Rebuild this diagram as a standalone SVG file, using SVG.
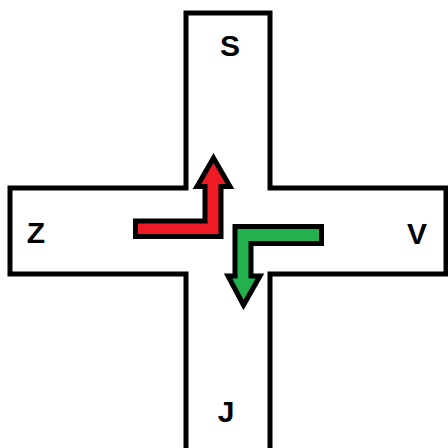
<svg xmlns="http://www.w3.org/2000/svg" width="448" height="448" viewBox="0 0 448 448">
<style>
.road{fill:#fff;stroke:#000;stroke-width:5;stroke-linejoin:miter}
.arrow{stroke:#000;stroke-width:5;stroke-linejoin:miter}
.lbl{font-family:"Liberation Sans",Arial,sans-serif;font-weight:bold;font-size:30px;fill:#000;text-anchor:middle}
</style>
<rect width="448" height="448" fill="#fff"/>
<g id="roads">
<polygon class="road" points="186,13 270,13 270,188 446,188 446,274 270,274 270,460 186,460 186,274 10,274 10,188 186,188"/>
</g>
<g id="label-S"><text class="lbl" x="230" y="56">S</text></g>
<g id="label-Z"><text class="lbl" x="36" y="243">Z</text></g>
<g id="label-V"><text class="lbl" x="417" y="244">V</text></g>
<g id="label-J"><text class="lbl" x="226" y="422">J</text></g>
<g id="connectors">
<polygon class="arrow" fill="#ED1C24" points="135.5,221 205,221 205,186.5 197,186.5 213.5,158 230,186.5 221,186.5 221,236.5 135.5,236.5"/>
<polygon class="arrow" fill="#22B14C" points="235,226.5 321.5,226.5 321.5,243.5 251,243.5 251,276 260,276 243.5,305 228,276 235,276"/>
</g>
</svg>
